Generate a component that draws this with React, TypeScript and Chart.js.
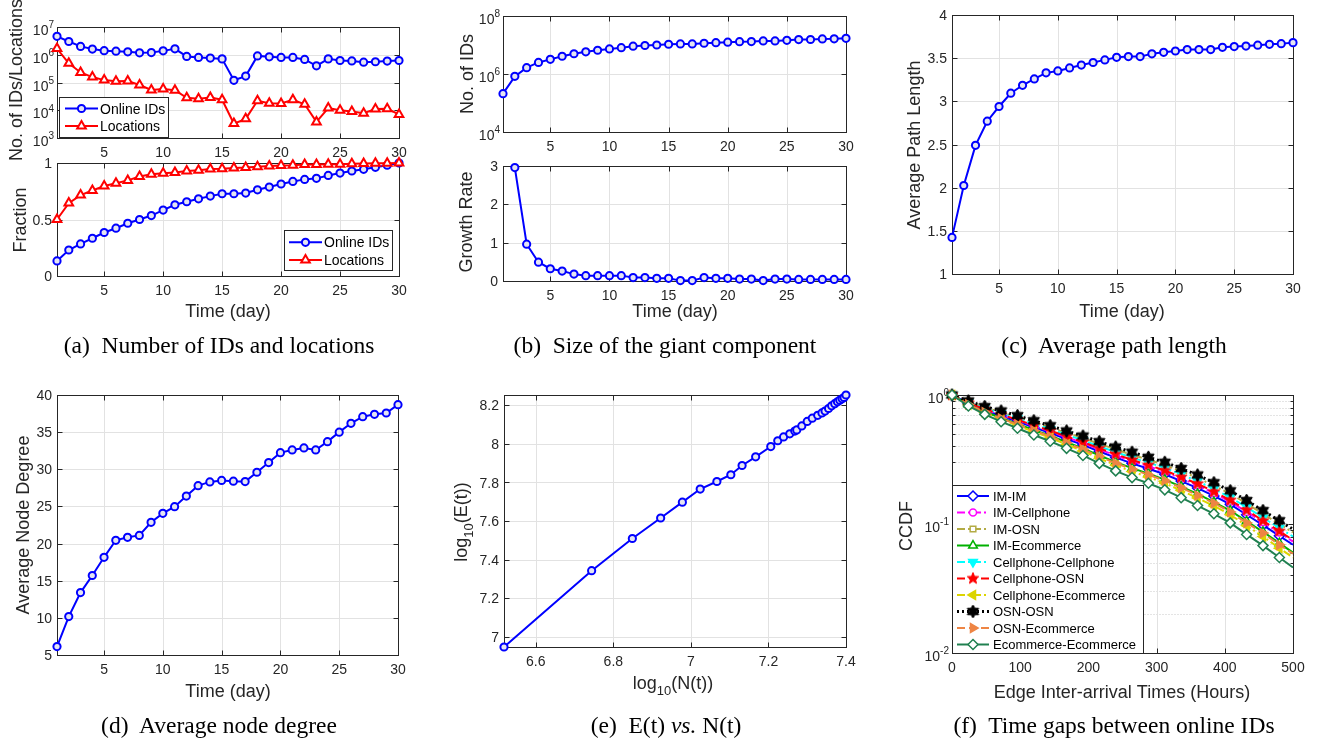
import React, { useEffect, useRef } from 'react';
import { Chart, registerables } from 'chart.js';

Chart.register(...registerables);

const W = 1317;
const H = 742;
const SANS = '"Liberation Sans", Arial, Helvetica, sans-serif';
const SERIF = '"Liberation Serif", "Times New Roman", serif';
const AX = '#262626';
const GRID = '#e2e2e2';

// ---------------- DATA ----------------
const days = [1, 2, 3, 4, 5, 6, 7, 8, 9, 10, 11, 12, 13, 14, 15, 16, 17, 18, 19, 20, 21, 22, 23, 24, 25, 26, 27, 28, 29, 30];
const dayTicks = [5, 10, 15, 20, 25, 30];

const onlineIDsCount = [4.6e6, 3.0e6, 2.0e6, 1.6e6, 1.4e6, 1.35e6, 1.27e6, 1.17e6, 1.2e6, 1.38e6, 1.63e6, 8.7e5, 8.0e5, 7.6e5, 7.1e5, 1.2e5, 1.7e5, 9.1e5, 8.4e5, 8.0e5, 8.0e5, 6.8e5, 4.0e5, 7.1e5, 6.2e5, 6.0e5, 5.4e5, 5.6e5, 5.9e5, 6.2e5];
const locationsCount = [1.67e6, 4.9e5, 2.3e5, 1.57e5, 1.22e5, 1.1e5, 1.13e5, 8.1e4, 5.4e4, 5.8e4, 5.3e4, 2.8e4, 2.6e4, 2.9e4, 2.4e4, 3.3e3, 4.9e3, 2.2e4, 1.8e4, 1.74e4, 2.4e4, 1.65e4, 3.8e3, 1.2e4, 1.0e4, 9.0e3, 7.8e3, 1.1e4, 1.13e4, 7.1e3];
const countTicks = [1e3, 1e4, 1e5, 1e6, 1e7];

const onlineIDsFraction = [0.133, 0.23, 0.284, 0.334, 0.385, 0.423, 0.467, 0.5, 0.535, 0.583, 0.63, 0.657, 0.683, 0.707, 0.728, 0.728, 0.734, 0.763, 0.787, 0.814, 0.837, 0.855, 0.864, 0.89, 0.911, 0.929, 0.944, 0.962, 0.98, 1.0];
const locationsFraction = [0.5, 0.645, 0.716, 0.757, 0.796, 0.82, 0.846, 0.88, 0.9, 0.91, 0.917, 0.929, 0.935, 0.947, 0.95, 0.956, 0.96, 0.967, 0.973, 0.978, 0.98, 0.986, 0.986, 0.99, 0.99, 0.993, 0.995, 0.997, 0.998, 1.0];
const fractionTicks = [0, 0.5, 1];

const giantSize = [2.1e5, 8.3e5, 1.65e6, 2.5e6, 3.2e6, 4.1e6, 5.0e6, 5.8e6, 6.6e6, 7.3e6, 8.1e6, 9.1e6, 9.6e6, 1.0e7, 1.06e7, 1.09e7, 1.09e7, 1.15e7, 1.2e7, 1.25e7, 1.3e7, 1.31e7, 1.38e7, 1.38e7, 1.45e7, 1.54e7, 1.55e7, 1.62e7, 1.63e7, 1.7e7];
const giantTicks = [1e4, 1e6, 1e8];

const growthDays = [2, 3, 4, 5, 6, 7, 8, 9, 10, 11, 12, 13, 14, 15, 16, 17, 18, 19, 20, 21, 22, 23, 24, 25, 26, 27, 28, 29, 30];
const growthRate = [2.96, 0.96, 0.49, 0.32, 0.26, 0.18, 0.14, 0.14, 0.14, 0.14, 0.09, 0.09, 0.07, 0.07, 0.01, 0.01, 0.09, 0.07, 0.07, 0.05, 0.05, 0.01, 0.05, 0.05, 0.04, 0.04, 0.04, 0.04, 0.04];
const growthTicks = [0, 1, 2, 3];

const avgPathLength = [1.424, 2.025, 2.49, 2.77, 2.94, 3.094, 3.186, 3.26, 3.33, 3.352, 3.387, 3.42, 3.45, 3.48, 3.51, 3.518, 3.518, 3.55, 3.568, 3.583, 3.6, 3.6, 3.6, 3.626, 3.634, 3.64, 3.65, 3.66, 3.668, 3.68];
const pathTicks = [1, 1.5, 2, 2.5, 3, 3.5, 4];

const avgNodeDegree = [6.13, 10.17, 13.4, 15.7, 18.15, 20.44, 20.84, 21.1, 22.86, 24.07, 24.97, 26.4, 27.8, 28.3, 28.5, 28.4, 28.34, 29.6, 30.9, 32.24, 32.6, 32.87, 32.6, 33.72, 35.0, 36.19, 37.08, 37.4, 37.58, 38.7];
const degreeTicks = [5, 10, 15, 20, 25, 30, 35, 40];

const logN = [6.518, 6.744, 6.849, 6.922, 6.978, 7.024, 7.067, 7.103, 7.132, 7.167, 7.206, 7.224, 7.239, 7.255, 7.268, 7.273, 7.286, 7.3, 7.313, 7.327, 7.338, 7.346, 7.355, 7.363, 7.371, 7.378, 7.384, 7.39, 7.395, 7.4];
const logE = [6.948, 7.343, 7.51, 7.616, 7.698, 7.766, 7.805, 7.84, 7.888, 7.933, 7.986, 8.016, 8.036, 8.052, 8.066, 8.072, 8.093, 8.116, 8.133, 8.148, 8.16, 8.17, 8.183, 8.197, 8.208, 8.218, 8.226, 8.233, 8.24, 8.253];
const logNTicks = [6.6, 6.8, 7, 7.2, 7.4];
const logETicks = [7, 7.2, 7.4, 7.6, 7.8, 8, 8.2];

const gapHours = [0, 24, 48, 72, 96, 120, 144, 168, 192, 216, 240, 264, 288, 312, 336, 360, 384, 408, 432, 456, 480, 500];
const ccdfIMIM = [1, 0.861, 0.761, 0.687, 0.622, 0.561, 0.508, 0.456, 0.411, 0.365, 0.327, 0.295, 0.268, 0.243, 0.215, 0.19, 0.165, 0.142, 0.118, 0.098, 0.081, 0.069];
const ccdfIMCellphone = [1, 0.868, 0.771, 0.7, 0.636, 0.575, 0.522, 0.47, 0.425, 0.379, 0.34, 0.308, 0.28, 0.254, 0.225, 0.2, 0.173, 0.149, 0.124, 0.103, 0.086, 0.073];
const ccdfIMOSN = [1, 0.89, 0.8, 0.736, 0.675, 0.615, 0.561, 0.509, 0.464, 0.418, 0.379, 0.344, 0.314, 0.287, 0.256, 0.228, 0.198, 0.172, 0.144, 0.12, 0.1, 0.086];
const ccdfIMEcommerce = [1, 0.847, 0.742, 0.663, 0.597, 0.535, 0.483, 0.431, 0.385, 0.34, 0.302, 0.271, 0.246, 0.221, 0.195, 0.171, 0.148, 0.127, 0.105, 0.087, 0.071, 0.06];
const ccdfCellphoneCellphone = [1, 0.88, 0.787, 0.719, 0.657, 0.597, 0.543, 0.491, 0.446, 0.4, 0.361, 0.327, 0.299, 0.272, 0.242, 0.215, 0.187, 0.161, 0.135, 0.112, 0.093, 0.08];
const ccdfCellphoneOSN = [1, 0.872, 0.776, 0.706, 0.643, 0.582, 0.529, 0.477, 0.432, 0.386, 0.347, 0.314, 0.286, 0.26, 0.231, 0.205, 0.178, 0.153, 0.128, 0.106, 0.088, 0.075];
const ccdfCellphoneEcommerce = [1, 0.837, 0.729, 0.647, 0.58, 0.518, 0.466, 0.414, 0.368, 0.323, 0.285, 0.255, 0.231, 0.207, 0.182, 0.159, 0.138, 0.118, 0.097, 0.08, 0.065, 0.055];
const ccdfOSNOSN = [1, 0.899, 0.813, 0.752, 0.692, 0.632, 0.578, 0.526, 0.481, 0.435, 0.395, 0.36, 0.329, 0.301, 0.269, 0.24, 0.209, 0.181, 0.152, 0.127, 0.106, 0.091];
const ccdfOSNEcommerce = [1, 0.844, 0.737, 0.658, 0.591, 0.53, 0.477, 0.425, 0.379, 0.334, 0.296, 0.266, 0.241, 0.217, 0.191, 0.167, 0.145, 0.124, 0.102, 0.085, 0.069, 0.059];
const ccdfEcommerceEcommerce = [1, 0.822, 0.708, 0.621, 0.552, 0.49, 0.438, 0.386, 0.34, 0.295, 0.258, 0.229, 0.207, 0.184, 0.16, 0.139, 0.12, 0.102, 0.083, 0.068, 0.055, 0.046];
const hourTicks = [0, 100, 200, 300, 400, 500];
const ccdfTicks = [0.01, 0.1, 1];
const ccdfMinorTicks = [0.02, 0.03, 0.04, 0.05, 0.06, 0.07, 0.08, 0.09, 0.2, 0.3, 0.4, 0.5, 0.6, 0.7, 0.8, 0.9];

const captions = [
  { label: '(a)', text: 'Number of IDs and locations', x: 219, y: 346 },
  { label: '(b)', text: 'Size of the giant component', x: 665, y: 346 },
  { label: '(c)', text: 'Average path length', x: 1114, y: 346 },
  { label: '(d)', text: 'Average node degree', x: 219, y: 726 },
  { label: '(e)', text: 'E(t) |vs.| N(t)', x: 666, y: 726 },
  { label: '(f)', text: 'Time gaps between online IDs', x: 1114, y: 726 },
];

// ---------------- DRAW HELPERS ----------------
type Seg = { t: string; s?: 'sup' | 'sub' };
type Title = { segs: Seg[]; x: number; y: number; size?: number };
type LegendSpec = { box: [number, number, number, number]; rowY0: number; rowH: number; lineX0: number; lineX1: number; textX: number; font: number; items: number[] };
type PanelSpec = {
  rect: { l: number; t: number; r: number; b: number };
  xType?: string; yType?: string;
  xMin: number; xMax: number; yMin: number; yMax: number;
  xTicks: number[]; yTicks: number[]; yMinor?: number[];
  yLog?: boolean;
  xTitle?: Title; yTitle?: Title;
  legend?: LegendSpec;
  datasets: any[];
};

function segFont(size: number, s?: string) {
  return `${s ? Math.round(size * 0.72) : size}px ${SANS}`;
}
function measureSegs(ctx: CanvasRenderingContext2D, segs: Seg[], size: number) {
  let w = 0;
  for (const g of segs) { ctx.font = segFont(size, g.s); w += ctx.measureText(g.t).width; }
  return w;
}
function drawSegs(ctx: CanvasRenderingContext2D, segs: Seg[], x: number, y: number, size: number, align: string) {
  const w = measureSegs(ctx, segs, size);
  let cx = align === 'center' ? x - w / 2 : align === 'right' ? x - w : x;
  ctx.textAlign = 'left';
  ctx.textBaseline = 'alphabetic';
  const base = y + size * 0.36;
  for (const g of segs) {
    ctx.font = segFont(size, g.s);
    const dy = g.s === 'sup' ? -size * 0.48 : g.s === 'sub' ? size * 0.3 : 0;
    ctx.fillText(g.t, cx, base + dy);
    cx += ctx.measureText(g.t).width;
  }
}
function line(ctx: CanvasRenderingContext2D, x0: number, y0: number, x1: number, y1: number) {
  ctx.beginPath(); ctx.moveTo(x0, y0); ctx.lineTo(x1, y1); ctx.stroke();
}
function fmt(v: number) {
  return String(Math.round(v * 1000) / 1000);
}

function drawMarker(ctx: CanvasRenderingContext2D, style: any, x: number, y: number, r: number, rot: number, fill: string, stroke: string, lw: number) {
  if (typeof style !== 'string') {
    ctx.drawImage(style, x - style.width / 2, y - style.height / 2);
    return;
  }
  const rad = (rot * Math.PI) / 180;
  ctx.beginPath();
  if (style === 'circle') ctx.arc(x, y, r, 0, Math.PI * 2);
  else if (style === 'triangle') {
    for (let k = 0; k < 3; k++) {
      const a = rad + (k * 2 * Math.PI) / 3;
      const px = x + Math.sin(a) * r, py = y - Math.cos(a) * r;
      if (k === 0) ctx.moveTo(px, py); else ctx.lineTo(px, py);
    }
    ctx.closePath();
  } else if (style === 'rect') {
    const s = r * Math.SQRT1_2;
    ctx.rect(x - s, y - s, 2 * s, 2 * s);
  } else if (style === 'rectRot') {
    ctx.moveTo(x, y - r); ctx.lineTo(x + r, y); ctx.lineTo(x, y + r); ctx.lineTo(x - r, y); ctx.closePath();
  }
  ctx.setLineDash([]);
  ctx.fillStyle = fill; ctx.fill();
  ctx.lineWidth = lw; ctx.strokeStyle = stroke; ctx.stroke();
}

function starCanvas(n: number, outer: number, inner: number, color: string) {
  const s = Math.ceil(outer * 2 + 2);
  const c = document.createElement('canvas');
  c.width = s; c.height = s;
  const g = c.getContext('2d')!;
  g.beginPath();
  for (let k = 0; k < 2 * n; k++) {
    const r = k % 2 === 0 ? outer : inner;
    const a = -Math.PI / 2 + (k * Math.PI) / n;
    const px = s / 2 + r * Math.cos(a), py = s / 2 + r * Math.sin(a);
    if (k === 0) g.moveTo(px, py); else g.lineTo(px, py);
  }
  g.closePath();
  g.fillStyle = color; g.fill();
  g.lineWidth = 1; g.strokeStyle = color; g.stroke();
  return c;
}

function axesPlugin(spec: PanelSpec) {
  return {
    id: 'matlabAxes',
    beforeDatasetsDraw(chart: any) {
      const ctx: CanvasRenderingContext2D = chart.ctx;
      const ca = chart.chartArea;
      const xs = chart.scales.x, ys = chart.scales.y;
      const L = Math.round(ca.left) + 0.5, R = Math.round(ca.right) + 0.5;
      const T = Math.round(ca.top) + 0.5, B = Math.round(ca.bottom) + 0.5;
      const px = (v: number) => Math.round(xs.getPixelForValue(v)) + 0.5;
      const py = (v: number) => Math.round(ys.getPixelForValue(v)) + 0.5;
      ctx.save();
      ctx.lineWidth = 1;
      if (spec.yMinor) {
        ctx.strokeStyle = '#c8c8c8';
        ctx.setLineDash([1, 2]);
        for (const v of spec.yMinor) line(ctx, L, py(v), R, py(v));
        ctx.setLineDash([]);
      }
      ctx.strokeStyle = GRID;
      for (const v of spec.xTicks) { const x = px(v); if (x > L + 1 && x < R - 1) line(ctx, x, T, x, B); }
      for (const v of spec.yTicks) { const y = py(v); if (y > T + 1 && y < B - 1) line(ctx, L, y, R, y); }
      ctx.strokeStyle = AX;
      ctx.strokeRect(L, T, R - L, B - T);
      const tl = 5;
      for (const v of spec.xTicks) { const x = px(v); line(ctx, x, B, x, B - tl); line(ctx, x, T, x, T + tl); }
      for (const v of spec.yTicks) { const y = py(v); line(ctx, L, y, L + tl, y); line(ctx, R, y, R - tl, y); }
      if (spec.yMinor) for (const v of spec.yMinor) { const y = py(v); line(ctx, L, y, L + 3, y); line(ctx, R, y, R - 3, y); }
      ctx.fillStyle = AX;
      for (const v of spec.xTicks) drawSegs(ctx, [{ t: fmt(v) }], xs.getPixelForValue(v), ca.bottom + 14, 14, 'center');
      for (const v of spec.yTicks) {
        const y = ys.getPixelForValue(v);
        if (spec.yLog) drawSegs(ctx, [{ t: '10' }, { t: String(Math.round(Math.log10(v))), s: 'sup' }], ca.left - 3, y + 3, 14, 'right');
        else drawSegs(ctx, [{ t: fmt(v) }], ca.left - 5, y, 14, 'right');
      }
      if (spec.xTitle) drawSegs(ctx, spec.xTitle.segs, spec.xTitle.x, spec.xTitle.y, spec.xTitle.size || 18, 'center');
      if (spec.yTitle) {
        ctx.save();
        ctx.translate(spec.yTitle.x, spec.yTitle.y);
        ctx.rotate(-Math.PI / 2);
        drawSegs(ctx, spec.yTitle.segs, 0, 0, spec.yTitle.size || 18, 'center');
        ctx.restore();
      }
      ctx.restore();
    },
    afterDatasetsDraw(chart: any) {
      const lg = spec.legend;
      if (!lg) return;
      const ctx: CanvasRenderingContext2D = chart.ctx;
      ctx.save();
      const [x0, y0, x1, y1] = lg.box;
      ctx.fillStyle = '#ffffff';
      ctx.fillRect(x0, y0, x1 - x0, y1 - y0);
      ctx.strokeStyle = AX; ctx.lineWidth = 1;
      ctx.strokeRect(Math.round(x0) + 0.5, Math.round(y0) + 0.5, Math.round(x1 - x0), Math.round(y1 - y0));
      lg.items.forEach((di, i) => {
        const ds = chart.data.datasets[di];
        const y = lg.rowY0 + i * lg.rowH;
        ctx.strokeStyle = ds.borderColor;
        ctx.lineWidth = ds.borderWidth;
        ctx.setLineDash(ds.borderDash || []);
        line(ctx, lg.lineX0, y, lg.lineX1, y);
        const r = Array.isArray(ds.pointRadius) ? ds.pointRadius[0] : ds.pointRadius;
        drawMarker(ctx, ds.pointStyle, (lg.lineX0 + lg.lineX1) / 2, y, r, ds.pointRotation || 0, ds.pointBackgroundColor, ds.pointBorderColor, ds.pointBorderWidth);
        ctx.fillStyle = '#000000';
        ctx.font = `${lg.font}px ${SANS}`;
        ctx.textAlign = 'left';
        ctx.textBaseline = 'alphabetic';
        ctx.fillText(ds.label, lg.textX, y + lg.font * 0.36);
      });
      ctx.restore();
    },
  };
}

function makeConfig(spec: PanelSpec): any {
  const n = spec.datasets.length;
  spec.datasets.forEach((d, i) => { d.order = n - i; d.clip = false; d.tension = 0; d.fill = false; });
  return {
    type: 'line',
    data: { datasets: spec.datasets },
    options: {
      animation: false,
      responsive: false,
      devicePixelRatio: 1,
      events: [],
      layout: { padding: { left: spec.rect.l, top: spec.rect.t, right: W - spec.rect.r, bottom: H - spec.rect.b } },
      scales: {
        x: { type: spec.xType || 'linear', min: spec.xMin, max: spec.xMax, display: false },
        y: { type: spec.yType || 'linear', min: spec.yMin, max: spec.yMax, display: false },
      },
      plugins: { legend: { display: false }, tooltip: { enabled: false }, title: { display: false } },
    },
    plugins: [axesPlugin(spec)],
  };
}

const pts = (xs: number[], ys: number[]) => xs.map((x, i) => ({ x, y: ys[i] }));

function blueCircles(label: string, data: any[]) {
  return {
    label, data,
    borderColor: '#0000ff', borderWidth: 2,
    pointStyle: 'circle', pointRadius: 3.6, pointBorderWidth: 2,
    pointBorderColor: '#0000ff', pointBackgroundColor: '#e4e4f2',
  };
}
function redTriangles(label: string, data: any[]) {
  return {
    label, data,
    borderColor: '#ff0000', borderWidth: 2,
    pointStyle: 'triangle', pointRadius: 5, pointBorderWidth: 2,
    pointBorderColor: '#ff0000', pointBackgroundColor: '#ffffff',
  };
}

const Lsub = (a: string, b: string): Seg[] => [{ t: a }, { t: '10', s: 'sub' }, { t: b }];

function buildSpecs(): PanelSpec[] {
  const dashDot = [8, 3, 2, 3];
  const dashed = [8, 4];
  const dotted = [2, 3];
  const mk = (r: number) => gapHours.map((_, i) => (i === gapHours.length - 1 ? 0 : r));
  const ccdf = (label: string, ys: number[], color: string, dash: number[], style: any, r: number, rot: number, fill: string, lw = 2) => ({
    label, data: pts(gapHours, ys),
    borderColor: color, borderWidth: lw, borderDash: dash,
    pointStyle: style, pointRadius: mk(r), pointRotation: rot, pointBorderWidth: 1.5,
    pointBorderColor: color, pointBackgroundColor: fill,
  });
  const red = '#ff0000';
  const pent = starCanvas(5, 6, 2.6, red);
  const hexa = starCanvas(6, 6.5, 3.8, '#000000');

  return [
    {
      rect: { l: 57, t: 27, r: 399, b: 138 },
      yType: 'logarithmic', xMin: 1, xMax: 30, yMin: 1e3, yMax: 1e7,
      xTicks: dayTicks, yTicks: countTicks, yLog: true,
      yTitle: { segs: [{ t: 'No. of IDs/Locations' }], x: 16, y: 80 },
      legend: { box: [59, 97, 168, 137], rowY0: 108.5, rowH: 17.5, lineX0: 65, lineX1: 98, textX: 100, font: 14, items: [0, 1] },
      datasets: [blueCircles('Online IDs', pts(days, onlineIDsCount)), redTriangles('Locations', pts(days, locationsCount))],
    },
    {
      rect: { l: 57, t: 163, r: 399, b: 276 },
      xMin: 1, xMax: 30, yMin: 0, yMax: 1,
      xTicks: dayTicks, yTicks: fractionTicks,
      xTitle: { segs: [{ t: 'Time (day)' }], x: 228, y: 311 },
      yTitle: { segs: [{ t: 'Fraction' }], x: 20, y: 220 },
      legend: { box: [284, 230, 392, 270], rowY0: 242.3, rowH: 17.7, lineX0: 289, lineX1: 322, textX: 324, font: 14, items: [0, 1] },
      datasets: [blueCircles('Online IDs', pts(days, onlineIDsFraction)), redTriangles('Locations', pts(days, locationsFraction))],
    },
    {
      rect: { l: 503, t: 16, r: 846, b: 132 },
      yType: 'logarithmic', xMin: 1, xMax: 30, yMin: 1e4, yMax: 1e8,
      xTicks: dayTicks, yTicks: giantTicks, yLog: true,
      yTitle: { segs: [{ t: 'No. of IDs' }], x: 467, y: 74 },
      datasets: [blueCircles('Giant component', pts(days, giantSize))],
    },
    {
      rect: { l: 503, t: 166, r: 846, b: 281 },
      xMin: 1, xMax: 30, yMin: 0, yMax: 3,
      xTicks: dayTicks, yTicks: growthTicks,
      xTitle: { segs: [{ t: 'Time (day)' }], x: 675, y: 311 },
      yTitle: { segs: [{ t: 'Growth Rate' }], x: 466, y: 222 },
      datasets: [blueCircles('Growth rate', pts(growthDays, growthRate))],
    },
    {
      rect: { l: 952, t: 15, r: 1293, b: 274 },
      xMin: 1, xMax: 30, yMin: 1, yMax: 4,
      xTicks: dayTicks, yTicks: pathTicks,
      xTitle: { segs: [{ t: 'Time (day)' }], x: 1122, y: 311 },
      yTitle: { segs: [{ t: 'Average Path Length' }], x: 914, y: 145 },
      datasets: [blueCircles('Average path length', pts(days, avgPathLength))],
    },
    {
      rect: { l: 57, t: 395, r: 398, b: 655 },
      xMin: 1, xMax: 30, yMin: 5, yMax: 40,
      xTicks: dayTicks, yTicks: degreeTicks,
      xTitle: { segs: [{ t: 'Time (day)' }], x: 228, y: 691 },
      yTitle: { segs: [{ t: 'Average Node Degree' }], x: 23, y: 525 },
      datasets: [blueCircles('Average node degree', pts(days, avgNodeDegree))],
    },
    {
      rect: { l: 504, t: 395, r: 846, b: 647 },
      xMin: logN[0], xMax: logN[logN.length - 1], yMin: logE[0], yMax: logE[logE.length - 1],
      xTicks: logNTicks, yTicks: logETicks,
      xTitle: { segs: Lsub('log', '(N(t))'), x: 673, y: 683 },
      yTitle: { segs: Lsub('log', '(E(t))'), x: 461, y: 522 },
      datasets: [blueCircles('E vs N', pts(logN, logE))],
    },
    {
      rect: { l: 952, t: 395, r: 1293, b: 653 },
      yType: 'logarithmic', xMin: 0, xMax: 500, yMin: 0.01, yMax: 1,
      xTicks: hourTicks, yTicks: ccdfTicks, yMinor: ccdfMinorTicks, yLog: true,
      xTitle: { segs: [{ t: 'Edge Inter-arrival Times (Hours)' }], x: 1122, y: 692 },
      yTitle: { segs: [{ t: 'CCDF' }], x: 906, y: 526 },
      legend: { box: [952, 485, 1143, 653], rowY0: 496, rowH: 16.5, lineX0: 957, lineX1: 989, textX: 993, font: 13, items: [0, 1, 2, 3, 4, 5, 6, 7, 8, 9] },
      datasets: [
        ccdf('IM-IM', ccdfIMIM, '#0000ff', [], 'rectRot', 5, 0, '#ffffff'),
        ccdf('IM-Cellphone', ccdfIMCellphone, '#ff00ff', dashDot, 'circle', 3.5, 0, '#ffffff'),
        ccdf('IM-OSN', ccdfIMOSN, '#b3ab45', dashDot, 'rect', 4, 0, '#ffffff'),
        ccdf('IM-Ecommerce', ccdfIMEcommerce, '#00b000', [], 'triangle', 5, 0, '#ffffff'),
        ccdf('Cellphone-Cellphone', ccdfCellphoneCellphone, '#00ffff', dashDot, 'triangle', 5, 180, '#00ffff'),
        ccdf('Cellphone-OSN', ccdfCellphoneOSN, red, dashed, pent, 6, 0, red),
        ccdf('Cellphone-Ecommerce', ccdfCellphoneEcommerce, '#dcd400', dashDot, 'triangle', 5, -90, '#dcd400'),
        ccdf('OSN-OSN', ccdfOSNOSN, '#000000', dotted, hexa, 6.5, 0, '#000000', 3),
        ccdf('OSN-Ecommerce', ccdfOSNEcommerce, '#ee8544', dashed, 'triangle', 5, 90, '#ee8544'),
        ccdf('Ecommerce-Ecommerce', ccdfEcommerceEcommerce, '#208050', [], 'rectRot', 5, 0, '#ffffff'),
      ],
    },
  ];
}

function Panel({ spec }: { spec: PanelSpec }) {
  const ref = useRef<HTMLCanvasElement>(null);
  useEffect(() => {
    const chart = new Chart(ref.current!, makeConfig(spec));
    return () => chart.destroy();
  }, [spec]);
  return <canvas ref={ref} width={W} height={H} style={{ position: 'absolute', left: 0, top: 0, width: W, height: H }} />;
}

function Caption({ c }: { c: { label: string; text: string; x: number; y: number } }) {
  const parts = c.text.split('|');
  return (
    <div style={{ position: 'absolute', left: c.x, top: c.y, transform: 'translate(-50%, -50%)', whiteSpace: 'pre', fontFamily: SERIF, fontSize: 23.5, lineHeight: 1, color: '#000' }}>
      {c.label + '  '}
      {parts.map((p, i) => (i % 2 === 1 ? <i key={i}>{p}</i> : <span key={i}>{p}</span>))}
    </div>
  );
}

export default function App() {
  const specsRef = useRef<PanelSpec[] | null>(null);
  if (!specsRef.current) specsRef.current = buildSpecs();
  return (
    <div style={{ position: 'absolute', left: 0, top: 0, width: W, height: H, background: '#ffffff', overflow: 'hidden' }}>
      {specsRef.current.map((s, i) => <Panel key={i} spec={s} />)}
      {captions.map((c, i) => <Caption key={i} c={c} />)}
    </div>
  );
}
